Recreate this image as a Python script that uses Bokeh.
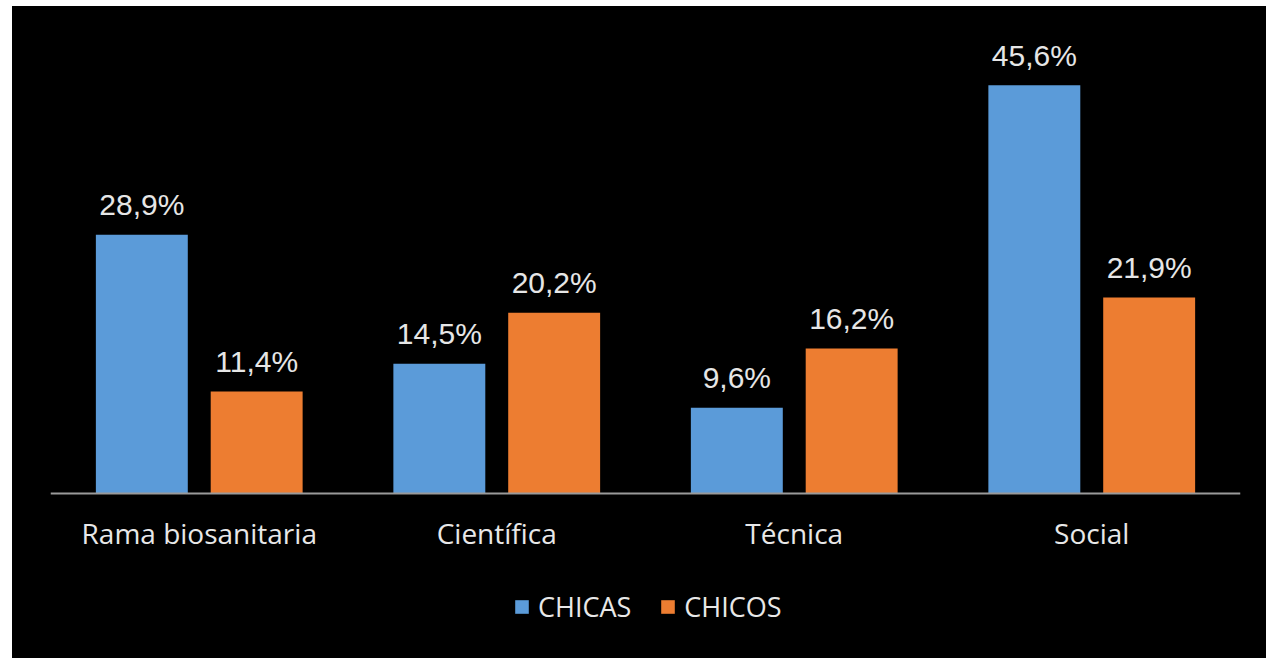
from bokeh.plotting import figure
from bokeh.models import ColumnDataSource, FactorRange, Range1d, Legend, LegendItem
from bokeh.transform import dodge
from bokeh.core.properties import value
from bokeh.embed import file_html
from bokeh.resources import INLINE

categories = ["Rama biosanitaria", "Científica", "Técnica", "Social"]
chicas = [28.9, 14.5, 9.6, 45.6]
chicos = [11.4, 20.2, 16.2, 21.9]
series_names = ["CHICAS", "CHICOS"]
colors = ["#5B9BD9", "#ED7D31"]


def fmt(v):
    return f"{v:.1f}".replace(".", ",") + "%"


src = ColumnDataSource(dict(
    cat=categories,
    chicas=chicas,
    chicos=chicos,
    lab_a=[fmt(v) for v in chicas],
    lab_o=[fmt(v) for v in chicos],
))

p = figure(
    x_range=FactorRange(factors=categories, range_padding=0),
    y_range=Range1d(-17.5, 51.7),
    width=1254, height=652,
    output_backend="svg", toolbar_location=None,
    y_axis_location=None,
    background_fill_color="black", border_fill_color="black",
    outline_line_color=None,
    min_border_left=38, min_border_right=26,
    min_border_top=24, min_border_bottom=8,
    margin=(6, 0, 0, 12),
    styles={"background-color": "black"},
)
p.xgrid.grid_line_color = None
p.ygrid.grid_line_color = None

off = 0.193
bw = 0.309
r1 = p.vbar(x=dodge("cat", -off, range=p.x_range), top="chicas", width=bw,
            source=src, fill_color=colors[0], line_color=None)
r2 = p.vbar(x=dodge("cat", off, range=p.x_range), top="chicos", width=bw,
            source=src, fill_color=colors[1], line_color=None)

for col, lab, o in (("chicas", "lab_a", -off), ("chicos", "lab_o", off)):
    p.text(x=dodge("cat", o, range=p.x_range), y=col, text=lab, source=src,
           text_align="center", text_baseline="alphabetic", y_offset=-30,
           text_font=value("Liberation Sans"), text_font_size="30px",
           text_color="#e6e6e6")

ax = p.xaxis[0]
ax.fixed_location = 0
ax.axis_line_color = "#9a9a9a"
ax.axis_line_width = 2
ax.major_tick_line_color = None
ax.minor_tick_line_color = None
ax.major_label_standoff = 14
ax.major_label_text_font = "Open Sans"
ax.major_label_text_font_size = "28px"
ax.major_label_text_color = "#e8e8e8"

legend = Legend(
    items=[LegendItem(label=series_names[0], renderers=[r1]),
           LegendItem(label=series_names[1], renderers=[r2])],
    orientation="horizontal", location=(463, 25),
    background_fill_alpha=0, border_line_color=None,
    label_text_color="#e8e8e8", label_text_font="Open Sans",
    label_text_font_size="27px",
    glyph_width=17, glyph_height=17, label_standoff=8, spacing=28,
    padding=0, margin=0,
)
p.add_layout(legend, "center")

open("out.html", "w").write(file_html(p, INLINE))
